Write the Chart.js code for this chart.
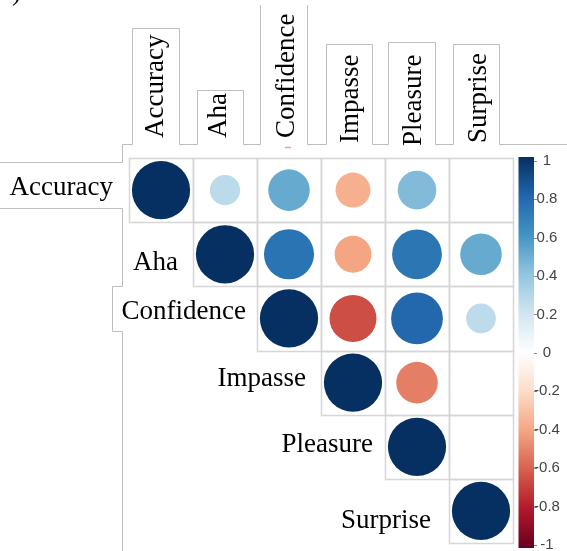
<!DOCTYPE html>
<html>
<head>
<meta charset="utf-8">
<script src="https://cdn.jsdelivr.net/npm/chart.js@4/dist/chart.umd.min.js"></script>
<style>
  body { margin: 0; background: #fff; }
  canvas { display: block; }
</style>
</head>
<body>
<canvas id="js--corr" width="567" height="551"></canvas>
<script>
const variables = ["Accuracy", "Aha", "Confidence", "Impasse", "Pleasure", "Surprise"];

// upper triangle, each row starts at the diagonal
const corrAccuracy = [1, 0.27, 0.51, -0.36, 0.44, 0];
const corrAha = [1, 0.74, -0.4, 0.73, 0.51];
const corrConfidence = [1, -0.65, 0.79, 0.26];
const corrImpasse = [1, -0.51, 0];
const corrPleasure = [1, 0];
const corrSurprise = [1];

const colorbarTicks = [1, 0.8, 0.6, 0.4, 0.2, 0, -0.2, -0.4, -0.6, -0.8, -1];

const rdbu = ["#67001F", "#B2182B", "#D6604D", "#F4A582", "#FDDBC7", "#FFFFFF",
  "#D1E5F0", "#92C5DE", "#4393C3", "#2166AC", "#053061"];

// label nudges, the screenshot labels are not evenly placed
const rowLabelDx = [-16, -15, -11, -15, -12, -18];
const rowLabelDy = [5, 16, 1, 3, 5, 17];
const colLabelDx = [2, 1, 5, 5, 4, 5];
const colLabelY = [138, 138, 138, 143, 146, 143];

const chartPadding = { left: 129, top: 158, right: 54, bottom: 8 };

function hexToRgb(h) {
  return [parseInt(h.slice(1, 3), 16), parseInt(h.slice(3, 5), 16), parseInt(h.slice(5, 7), 16)];
}

function corrColor(v) {
  let t = (v + 1) / 2 * 10;
  let i = Math.min(9, Math.max(0, Math.floor(t)));
  let f = t - i;
  let a = hexToRgb(rdbu[i]);
  let b = hexToRgb(rdbu[i + 1]);
  let c = a.map(function (x, k) { return Math.round(x + (b[k] - x) * f); });
  return "rgb(" + c[0] + "," + c[1] + "," + c[2] + ")";
}

const corrRows = [corrAccuracy, corrAha, corrConfidence, corrImpasse, corrPleasure, corrSurprise];
const points = [];
corrRows.forEach(function (row, i) {
  row.forEach(function (v, k) {
    points.push({ x: i + k + 1, y: i + 1, v: v });
  });
});

const cellGrid = {
  id: "cellGrid",
  beforeDatasetsDraw: function (chart) {
    const ctx = chart.ctx;
    const x = chart.scales.x;
    const y = chart.scales.y;
    ctx.save();
    ctx.strokeStyle = "#d6d6d6";
    ctx.lineWidth = 1.5;
    corrRows.forEach(function (row, i) {
      row.forEach(function (v, k) {
        const c = i + k + 1;
        const x0 = Math.round(x.getPixelForValue(c - 0.5)) + 0.5;
        const x1 = Math.round(x.getPixelForValue(c + 0.5)) + 0.5;
        const y0 = Math.round(y.getPixelForValue(i + 0.5)) + 0.5;
        const y1 = Math.round(y.getPixelForValue(i + 1.5)) + 0.5;
        ctx.strokeRect(x0, y0, x1 - x0, y1 - y0);
      });
    });
    ctx.restore();
  }
};

const labelsAndBar = {
  id: "labelsAndBar",
  afterDraw: function (chart) {
    const ctx = chart.ctx;
    const x = chart.scales.x;
    const y = chart.scales.y;
    ctx.save();

    // screenshot frame lines
    ctx.strokeStyle = "#bdbdbd";
    ctx.lineWidth = 1;
    ctx.beginPath();
    ctx.moveTo(122.5, 144.5);
    ctx.lineTo(132.5, 144.5); ctx.lineTo(132.5, 28.5); ctx.lineTo(179.5, 28.5); ctx.lineTo(179.5, 144.5);
    ctx.lineTo(197.5, 144.5); ctx.lineTo(197.5, 90.5); ctx.lineTo(243.5, 90.5); ctx.lineTo(243.5, 144.5);
    ctx.lineTo(260.5, 144.5); ctx.lineTo(260.5, 5);
    ctx.moveTo(307.5, 5); ctx.lineTo(307.5, 144.5);
    ctx.lineTo(326.5, 144.5); ctx.lineTo(326.5, 44.5); ctx.lineTo(372.5, 44.5); ctx.lineTo(372.5, 144.5);
    ctx.lineTo(388.5, 144.5); ctx.lineTo(388.5, 42.5); ctx.lineTo(435.5, 42.5); ctx.lineTo(435.5, 144.5);
    ctx.lineTo(453.5, 144.5); ctx.lineTo(453.5, 44.5); ctx.lineTo(499.5, 44.5); ctx.lineTo(499.5, 144.5);
    ctx.lineTo(567, 144.5);
    ctx.moveTo(122.5, 144.5); ctx.lineTo(122.5, 162.5); ctx.lineTo(0, 162.5);
    ctx.moveTo(0, 208.5); ctx.lineTo(122.5, 208.5); ctx.lineTo(122.5, 286.5);
    ctx.lineTo(112.5, 286.5); ctx.lineTo(112.5, 331.5); ctx.lineTo(122.5, 331.5); ctx.lineTo(122.5, 551);
    ctx.stroke();

    ctx.strokeStyle = "#f4a0a0";
    ctx.lineWidth = 1.5;
    ctx.beginPath();
    ctx.moveTo(285, 147.5);
    ctx.lineTo(291, 147.5);
    ctx.stroke();

    ctx.fillStyle = "#000";
    ctx.font = "27px 'Liberation Serif', 'Times New Roman', serif";
    ctx.textBaseline = "alphabetic";
    ctx.textAlign = "left";
    ctx.fillText(")", 12, 0);

    // row labels
    ctx.textAlign = "right";
    variables.forEach(function (name, i) {
      const left = x.getPixelForValue(i + 0.5);
      const mid = y.getPixelForValue(i + 1);
      ctx.fillText(name, left + rowLabelDx[i], mid + rowLabelDy[i]);
    });

    // column labels
    ctx.textAlign = "left";
    variables.forEach(function (name, i) {
      const cx = x.getPixelForValue(i + 1);
      ctx.save();
      ctx.translate(cx + colLabelDx[i], colLabelY[i]);
      ctx.rotate(-Math.PI / 2);
      ctx.fillText(name, 0, 0);
      ctx.restore();
    });

    // colorbar
    const barLeft = 518.5;
    const barWidth = 15.5;
    const barTop = 157;
    const barBottom = 548;
    const tickTop = 160.7;
    const tickBottom = 545;
    const grad = ctx.createLinearGradient(0, barBottom, 0, barTop);
    rdbu.forEach(function (c, i) {
      grad.addColorStop(i / 10, c);
    });
    ctx.fillStyle = grad;
    ctx.fillRect(barLeft, barTop, barWidth, barBottom - barTop);

    ctx.strokeStyle = "#8a8a8a";
    ctx.lineWidth = 1;
    ctx.fillStyle = "#444";
    ctx.font = "15px 'Liberation Sans', Arial, sans-serif";
    ctx.textAlign = "center";
    ctx.textBaseline = "middle";
    colorbarTicks.forEach(function (t) {
      const ty = tickBottom + (t + 1) / 2 * (tickTop - tickBottom);
      ctx.beginPath();
      ctx.moveTo(barLeft + barWidth, Math.round(ty) + 0.5);
      ctx.lineTo(barLeft + barWidth + 3, Math.round(ty) + 0.5);
      ctx.stroke();
      ctx.fillText(String(t), 547, ty);
    });

    ctx.restore();
  }
};

const config = {
  type: "bubble",
  data: {
    datasets: [
      {
        label: "correlation",
        data: points,
        borderWidth: 0,
        clip: false,
        backgroundColor: function (c) {
          return corrColor(c.raw ? c.raw.v : 0);
        },
        radius: function (c) {
          if (!c.raw) return 0;
          const cell = (c.chart.width - chartPadding.left - chartPadding.right) / variables.length;
          return 0.455 * cell * Math.sqrt(Math.abs(c.raw.v));
        },
      },
    ],
  },
  options: {
    responsive: false,
    animation: false,
    events: [],
    devicePixelRatio: 1,
    layout: { padding: chartPadding },
    scales: {
      x: { type: "linear", min: 0.5, max: 6.5, display: false },
      // bubble overflow pushes the bottom edge up, so the last row runs past the area
      y: { type: "linear", min: 0.5, max: 6.17, reverse: true, display: false },
    },
    plugins: {
      legend: { display: false },
      tooltip: { enabled: false },
    },
  },
  plugins: [cellGrid, labelsAndBar],
};

new Chart(document.getElementById("js--corr"), config);
</script>
</body>
</html>
